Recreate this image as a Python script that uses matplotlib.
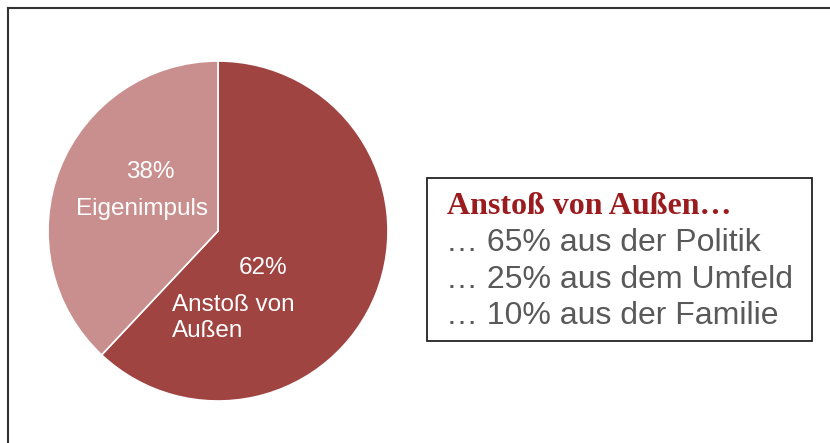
import matplotlib
matplotlib.use("Agg")
import matplotlib.pyplot as plt
from matplotlib.patches import Rectangle
from matplotlib.lines import Line2D

# Data
categories = ["Anstoß von Außen", "Eigenimpuls"]
values = [62, 38]
pct_labels = ["62%", "38%"]
colors = ["#A04442", "#C98F8E"]
box_title = "Anstoß von Außen…"
box_lines = ["… 65% aus der Politik", "… 25% aus dem Umfeld", "… 10% aus der Familie"]

W, H = 830, 443
fig = plt.figure(figsize=(W / 100, H / 100), dpi=100)
fig.patch.set_facecolor("white")

def fx(x):
    return x / W

def fy(y):
    return 1 - y / H

# Frame lines (left and top)
fig.add_artist(Line2D([fx(7.5), fx(7.5)], [fy(8), 0], transform=fig.transFigure, color="#333333", lw=1.5))
fig.add_artist(Line2D([fx(7.5), 1], [fy(8), fy(8)], transform=fig.transFigure, color="#333333", lw=1.5))

# Pie
cx, cy, r = 218, 231, 170
ax = fig.add_axes([fx(cx - r), fy(cy + r), 2 * r / W, 2 * r / H])
ax.pie(values, colors=colors, startangle=90, counterclock=False, radius=1,
       wedgeprops=dict(edgecolor="white", linewidth=1.2))
ax.set_xlim(-1, 1)
ax.set_ylim(-1, 1)
ax.axis("off")

lab_font = dict(family="Liberation Sans", color="white", fontsize=17.5)
fig.text(fx(150), fy(172), pct_labels[1], ha="center", va="center", **lab_font)
fig.text(fx(142), fy(209), categories[1], ha="center", va="center", **lab_font)
fig.text(fx(263), fy(268), pct_labels[0], ha="center", va="center", **lab_font)
fig.text(fx(172), fy(305), "Anstoß von", ha="left", va="center", **lab_font)
fig.text(fx(172), fy(331), "Außen", ha="left", va="center", **lab_font)

# Text box
fig.add_artist(Rectangle((fx(427), fy(341)), fx(812) - fx(427), fy(178) - fy(341),
                         transform=fig.transFigure, facecolor="white", edgecolor="#222222", lw=1.3))
fig.text(fx(447), fy(207), box_title, ha="left", va="center", family="Liberation Serif",
         fontweight="bold", color="#9B1C1F", fontsize=23)
for i, line in enumerate(box_lines):
    fig.text(fx(446), fy(243 + 36.5 * i), line, ha="left", va="center", family="Liberation Sans",
             color="#595959", fontsize=23)

fig.savefig("out.png", dpi=100)
